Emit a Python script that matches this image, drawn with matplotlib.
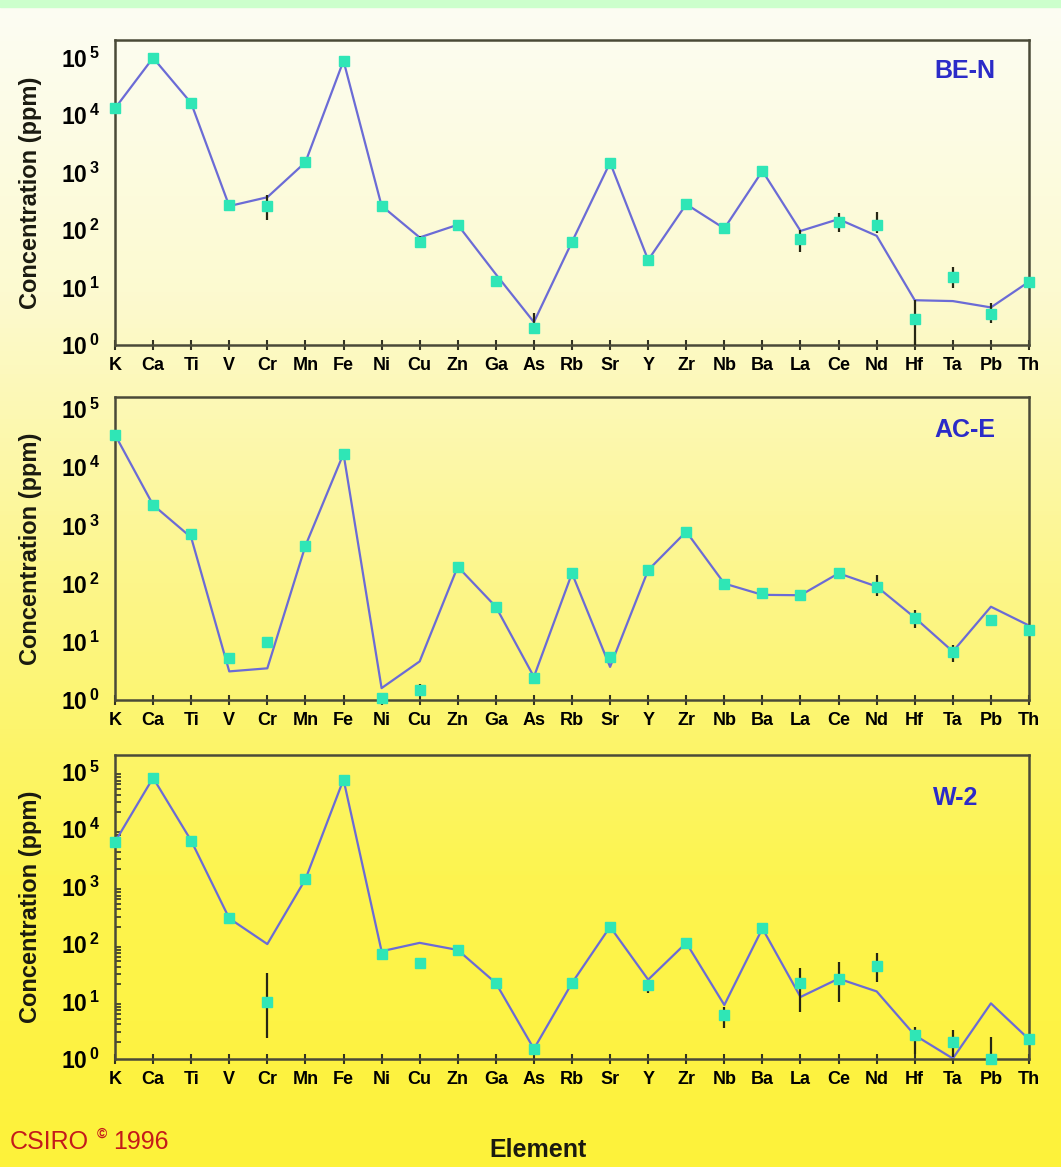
import numpy as np
import matplotlib
matplotlib.use("Agg")
import matplotlib.pyplot as plt
from matplotlib.colors import LinearSegmentedColormap
from matplotlib.ticker import FuncFormatter, NullLocator, LogLocator

plt.rcParams["font.family"] = "Liberation Sans"
plt.rcParams["mathtext.fontset"] = "custom"
plt.rcParams["mathtext.rm"] = "Liberation Sans:bold"
plt.rcParams["mathtext.it"] = "Liberation Sans:bold"
plt.rcParams["mathtext.bf"] = "Liberation Sans:bold"

elements = ["K", "Ca", "Ti", "V", "Cr", "Mn", "Fe", "Ni", "Cu", "Zn", "Ga", "As", "Rb",
            "Sr", "Y", "Zr", "Nb", "Ba", "La", "Ce", "Nd", "Hf", "Ta", "Pb", "Th"]

# certified values (line) and measured values (squares), ppm
ben_line = [1.3e4, 9.8e4, 1.6e4, 260, 370, 1500, 8.7e4, 263, 74, 123, 17, 2.5, 62,
            1480, 30, 280, 106, 1060, 96, 154, 79, 6.0, 5.8, 4.5, 12.6]
ben_meas = [1.3e4, 9.8e4, 1.6e4, 270, 260, 1500, 8.7e4, 263, 62, 123, 13, 2.0, 62,
            1480, 30, 280, 106, 1060, 69, 140, 121, 2.8, 15.5, 3.4, 12.6]
ben_err = {"Cr": (149, 407), "Cu": (50, 80), "As": (1.6, 3.6), "La": (42, 100),
           "Ce": (93, 195), "Nd": (87, 208), "Hf": (0.5, 6.0), "Ta": (9.7, 23),
           "Pb": (2.4, 5.3)}

ace_line = [3.6e4, 2240, 620, 3.1, 3.5, 445, 1.7e4, 1.6, 4.6, 195, 40, 2.5, 150,
            3.7, 170, 780, 100, 64, 63, 150, 89, 26, 6.8, 40, 19]
ace_meas = [3.6e4, 2240, 720, 5.2, 10, 445, 1.7e4, 1.07, 1.5, 195, 40, 2.4, 150,
            5.5, 170, 780, 100, 69, 63, 150, 89, 26, 6.8, 24, 16]
ace_err = {"Cu": (1.2, 1.9), "La": (52, 68), "Ce": (135, 165), "Nd": (60, 141),
           "Hf": (17, 35), "Ta": (4.5, 8.8)}

w2_line = [6000, 7.8e4, 6300, 280, 100, 1340, 7.3e4, 75, 105, 79, 21, 1.5, 21,
           200, 24, 105, 8.7, 187, 12, 25, 15, 2.6, 1.02, 9.3, 2.2]
w2_meas = [6000, 7.8e4, 6300, 280, 10, 1340, 7.3e4, 68, 46, 79, 21, 1.5, 21,
           200, 19.5, 105, 5.8, 187, 21, 25, 41, 2.6, 2.0, 1.0, 2.2]
w2_err = {"Cr": (2.3, 31), "Y": (14, 24), "Nb": (3.4, 8.1), "La": (6.6, 38),
          "Ce": (10, 49), "Nd": (22, 69), "Hf": (1.2, 3.6), "Ta": (1.1, 3.2),
          "Pb": (0.5, 2.4)}

W, H = 1061, 1167
fig = plt.figure(figsize=(W / 100, H / 100), dpi=100)

# background gradient
bg = fig.add_axes([0, 0, 1, 1], zorder=-10)
cmap = LinearSegmentedColormap.from_list(
    "bg", ["#fdfdf4", "#fcfad0", "#fcf68a", "#fdf450", "#fdf23a"])
bg.imshow(np.linspace(0, 1, 256).reshape(-1, 1), aspect="auto", cmap=cmap,
          extent=[0, 1, 0, 1])
bg.axhspan(1 - 7 / H, 1, color="#ccffcc")
bg.set_xlim(0, 1)
bg.set_ylim(0, 1)
bg.axis("off")


def rect(left, top, right, bottom):
    return [left / W, 1 - bottom / H, (right - left) / W, (bottom - top) / H]


panels = [
    ("BE-N", ben_line, ben_meas, ben_err, 2.0e5, rect(115, 40, 1029, 345), (0.93, 0.90)),
    ("AC-E", ace_line, ace_meas, ace_err, 1.6e5, rect(115, 397, 1029, 700), (0.93, 0.89)),
    ("W-2", w2_line, w2_meas, w2_err, 1.95e5, rect(115, 755, 1029, 1059), (0.92, 0.86)),
]

x = np.arange(len(elements))
fmt = FuncFormatter(lambda v, p: r"$10^{\,%d}$" % round(np.log10(v)))

for i, (name, line, meas, err, ytop, pos, lab) in enumerate(panels):
    ax = fig.add_axes(pos)
    ax.set_facecolor("none")
    ax.set_yscale("log")
    ax.set_xlim(0, len(elements) - 1)
    ax.set_ylim(1, ytop)

    ax.plot(x, line, color="#6b6bd6", lw=1.6, zorder=2)
    for el, (lo, hi) in err.items():
        k = elements.index(el)
        ax.vlines(k, lo, hi, color="#262614", lw=1.6, zorder=3)
    ax.plot(x, meas, "s", color="#2fe6b6", ms=7.5, zorder=4, clip_on=False)

    ax.set_xticks(x)
    ax.set_xticklabels(elements, fontsize=13, fontweight="bold")
    ax.tick_params(axis="x", direction="inout", length=7, width=1.5, pad=5,
                   color="#333322")
    ax.set_yticks([10.0 ** k for k in range(6)])
    ax.yaxis.set_major_formatter(fmt)
    ax.tick_params(axis="y", length=0, pad=11, labelsize=16.5)
    if i == 2:
        ax.yaxis.set_minor_locator(LogLocator(base=10, subs=np.arange(2, 10)))
        ax.tick_params(axis="y", which="minor", direction="in", length=4,
                       width=1.2, color="#333322")
    else:
        ax.yaxis.set_minor_locator(NullLocator())
    ax.yaxis.set_minor_formatter(FuncFormatter(lambda v, p: ""))

    for s in ax.spines.values():
        s.set_color("#4a4a38")
        s.set_linewidth(1.8)

    ax.set_ylabel("Concentration (ppm)", fontsize=17, fontweight="bold",
                  color="#1a1a10")
    ax.yaxis.set_label_coords(-(115 - 42) / 914, 0.5)
    ax.text(lab[0], lab[1], name, transform=ax.transAxes, ha="center", va="center",
            fontsize=18, fontweight="bold", color="#2b2bc8")

fig.text(538 / W, 1 - 1150 / H, "Element", ha="center", va="center",
         fontsize=18, fontweight="bold", color="#1a1a10")
fig.text(10 / W, 1 - 1142 / H, "CSIRO", ha="left", va="center", fontsize=18,
         color="#c41a1a")
fig.text(97 / W, 1 - 1134 / H, "\u00a9", ha="left", va="center", fontsize=10,
         color="#c41a1a", fontweight="bold")
fig.text(113 / W, 1 - 1142 / H, "1996", ha="left", va="center", fontsize=18,
         color="#c41a1a")

fig.savefig("out.png", dpi=100)
